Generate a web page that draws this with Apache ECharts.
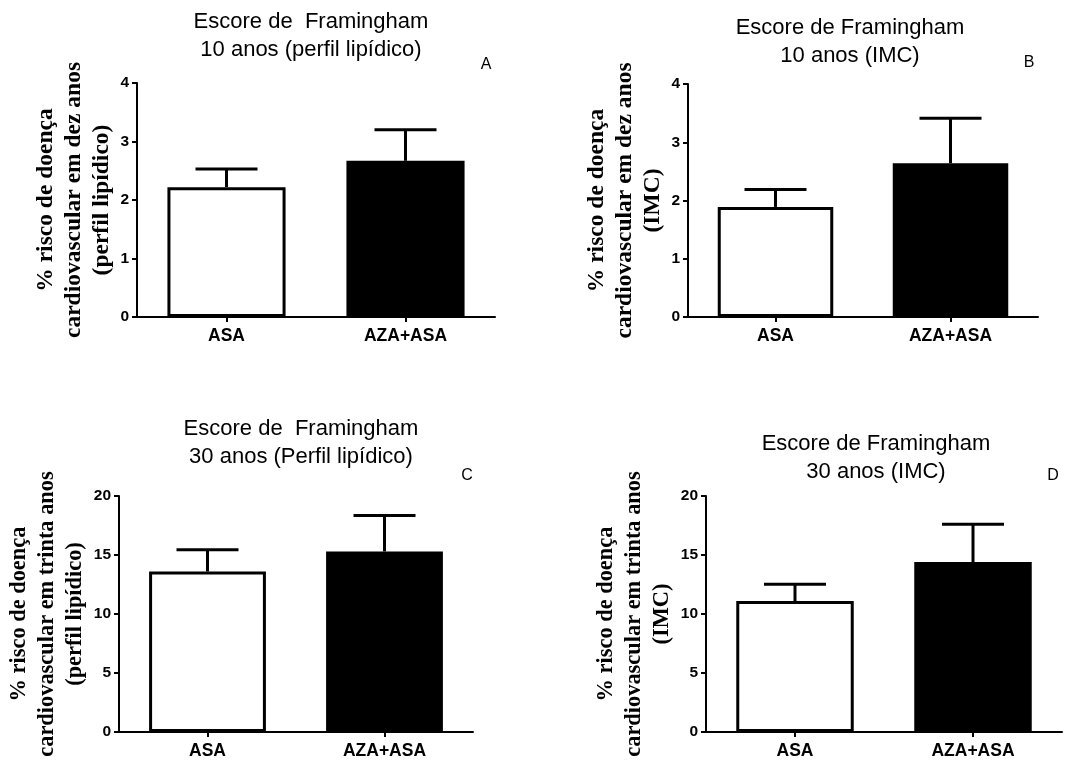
<!DOCTYPE html>
<html>
<head>
<meta charset="utf-8">
<script src="https://cdn.jsdelivr.net/npm/echarts@6/dist/echarts.min.js"></script>
<style>html,body{margin:0;padding:0;background:#fff;}#c{width:1067px;height:760px;}</style>
</head>
<body>
<div id="c"></div>
<script>
// ---- data ----
const categories = ['ASA', 'AZA+ASA'];
const meanA = [2.22, 2.67];
const semA  = [0.31, 0.53];
const meanB = [1.89, 2.64];
const semB  = [0.30, 0.77];
const meanC = [13.6, 15.3];
const semC  = [1.84, 3.05];
const meanD = [11.1, 14.4];
const semD  = [1.42, 3.20];
const ticks10 = [0, 1, 2, 3, 4];
const ticks30 = [0, 5, 10, 15, 20];
const titleA = 'Escore de  Framingham\n10 anos (perfil lipídico)';
const titleB = 'Escore de Framingham\n10 anos (IMC)';
const titleC = 'Escore de  Framingham\n30 anos (Perfil lipídico)';
const titleD = 'Escore de Framingham\n30 anos (IMC)';
const yNameA = '% risco de doença\ncardiovascular em dez anos\n(perfil lipídico)';
const yNameB = '% risco de doença\ncardiovascular em dez anos\n(IMC)';
const yNameC = '% risco de doença\ncardiovascular em trinta anos\n(perfil lipídico)';
const yNameD = '% risco de doença\ncardiovascular em trinta anos\n(IMC)';
const panelLetters = ['A', 'B', 'C', 'D'];

// ---- chart ----
const chart = echarts.init(document.getElementById('c'), null, {renderer: 'canvas'});
const SANS = 'Liberation Sans, Arial, sans-serif';
const SERIF = 'Liberation Serif, Times New Roman, serif';

const panels = [
  {mean: meanA, sem: semA, ticks: ticks10, yName: yNameA, gap: 21, nameSize: 23.5, grid: {left: 137, top: 83, width: 358, height: 234}},
  {mean: meanB, sem: semB, ticks: ticks10, yName: yNameB, gap: 21, nameSize: 23.5, grid: {left: 688, top: 84, width: 350, height: 233}},
  {mean: meanC, sem: semC, ticks: ticks30, yName: yNameC, gap: 30, nameSize: 22.4, grid: {left: 119, top: 496, width: 354, height: 236}},
  {mean: meanD, sem: semD, ticks: ticks30, yName: yNameD, gap: 30, nameSize: 22.4, grid: {left: 706, top: 496, width: 356, height: 236}}
];

const grids = [], xAxes = [], yAxes = [], series = [];
panels.forEach((p, i) => {
  grids.push(Object.assign({containLabel: false, outerBoundsMode: 'none'}, p.grid));
  xAxes.push({
    type: 'category', data: categories, gridIndex: i,
    axisLine: {show: true, lineStyle: {color: '#000', width: 2}},
    axisTick: {show: true, alignWithLabel: true, length: 5, lineStyle: {color: '#000', width: 2}},
    axisLabel: {color: '#000', fontFamily: SANS, fontWeight: 'bold', fontSize: 17.5, margin: 10},
    splitLine: {show: false}
  });
  const tk = p.ticks;
  yAxes.push({
    type: 'value', gridIndex: i, min: tk[0], max: tk[tk.length - 1], interval: tk[1] - tk[0],
    name: p.yName, nameLocation: 'middle', nameRotate: 90, nameGap: p.gap,
    nameTextStyle: {color: '#000', fontFamily: SERIF, fontWeight: 'bold', fontSize: p.nameSize, lineHeight: 28},
    axisLine: {show: true, lineStyle: {color: '#000', width: 2}},
    axisTick: {show: true, length: 5, lineStyle: {color: '#000', width: 2}},
    axisLabel: {color: '#000', fontFamily: SANS, fontWeight: 'bold', fontSize: 15.5, margin: 8},
    splitLine: {show: false}
  });
  series.push({
    type: 'bar', xAxisIndex: i, yAxisIndex: i, barWidth: '66%', z: 2,
    data: p.mean.map((v, k) => ({
      value: v,
      itemStyle: {color: k === 0 ? '#fff' : '#000', borderColor: '#000', borderWidth: 3}
    }))
  });
  series.push({
    type: 'custom', xAxisIndex: i, yAxisIndex: i, z: 3,
    encode: {x: 0, y: [1, 2]},
    data: p.mean.map((v, k) => [k, v, v + p.sem[k]]),
    renderItem: function (params, api) {
      const x = api.value(0), m = api.value(1), u = api.value(2);
      const p0 = api.coord([x, m]);
      const p1 = api.coord([x, u]);
      const half = 31;
      return {
        type: 'group',
        children: [
          {type: 'line', shape: {x1: p0[0], y1: p0[1], x2: p1[0], y2: p1[1]}, style: {stroke: '#000', lineWidth: 3}},
          {type: 'line', shape: {x1: p0[0] - half, y1: p1[1], x2: p0[0] + half, y2: p1[1]}, style: {stroke: '#000', lineWidth: 3}}
        ]
      };
    }
  });
});

const titleTexts = [titleA, titleB, titleC, titleD];
const titlePos = [[311, 8], [850, 14], [301, 415], [876, 430]];
const letterPos = [[486, 65], [1029, 63], [467, 476], [1053, 476]];
const graphics = [];
titleTexts.forEach((t, i) => {
  graphics.push({
    type: 'text', x: titlePos[i][0], y: titlePos[i][1],
    style: {text: t, align: 'center', verticalAlign: 'top', fill: '#000',
            fontFamily: SANS, fontSize: 22, lineHeight: 28}
  });
  graphics.push({
    type: 'text', x: letterPos[i][0], y: letterPos[i][1],
    style: {text: panelLetters[i], align: 'center', verticalAlign: 'middle', fill: '#000',
            fontFamily: SANS, fontSize: 16}
  });
});

chart.setOption({
  animation: false,
  backgroundColor: '#fff',
  grid: grids,
  xAxis: xAxes,
  yAxis: yAxes,
  series: series,
  graphic: graphics
});
</script>
</body>
</html>
